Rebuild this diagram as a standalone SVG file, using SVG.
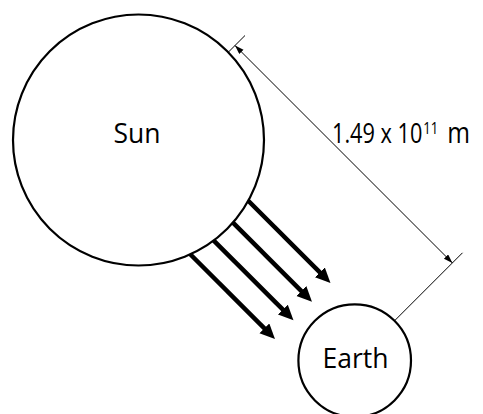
<svg xmlns="http://www.w3.org/2000/svg" width="483" height="414" viewBox="0 0 483 414">
<style>
  .body { fill: #fff; stroke: #000; stroke-width: 2.2; }
  .label { font-family: "Open Sans", "Noto Sans", sans-serif; font-size: 26.5px; fill: #000; }
  .ray { stroke: #000; stroke-width: 4.5; fill: none; marker-end: url(#bigHead); }
  .dim { stroke: #000; stroke-width: 1; fill: none; }
</style>
<defs>
  <marker id="bigHead" markerUnits="userSpaceOnUse" markerWidth="18" markerHeight="16" refX="5" refY="7" orient="auto">
    <path d="M0,0 L15,7 L0,14 Z" fill="#000"/>
  </marker>
  <marker id="smallHead" markerUnits="userSpaceOnUse" markerWidth="10" markerHeight="8" refX="9" refY="3" orient="auto-start-reverse">
    <path d="M0,0 L9,3 L0,6 Z" fill="#000"/>
  </marker>
</defs>
<g id="connectors">
  <g id="rays">
    <line class="ray" x1="230.5" y1="183" x2="323.4" y2="275.9"/>
    <line class="ray" x1="212" y1="201.7" x2="304.9" y2="294.6"/>
    <line class="ray" x1="193.5" y1="220.3" x2="286.4" y2="313.2"/>
    <line class="ray" x1="175" y1="239" x2="267.9" y2="331.9"/>
  </g>
  <g id="dimension">
    <line class="dim" x1="228.2" y1="52.3" x2="245" y2="35.5"/>
    <line class="dim" x1="394.5" y1="320.8" x2="462.5" y2="252.8"/>
    <line class="dim" x1="235" y1="45.5" x2="452.4" y2="262.9" marker-start="url(#smallHead)" marker-end="url(#smallHead)"/>
  </g>
</g>
<g id="sun">
  <circle class="body" cx="138.5" cy="140" r="125.5"/>
  <text class="label" x="137" y="143" text-anchor="middle">Sun</text>
</g>
<g id="earth">
  <circle class="body" cx="354.7" cy="360.6" r="56.3"/>
  <text class="label" x="355.5" y="368" text-anchor="middle">Earth</text>
</g>
<g id="distance-label">
  <text class="label" transform="translate(332,143) scale(0.82,1)" font-size="27">1.49 x 10<tspan dx="1" dy="-9.5" font-size="16">11</tspan><tspan dx="11" dy="9.5" font-size="30">m</tspan></text>
</g>
</svg>
